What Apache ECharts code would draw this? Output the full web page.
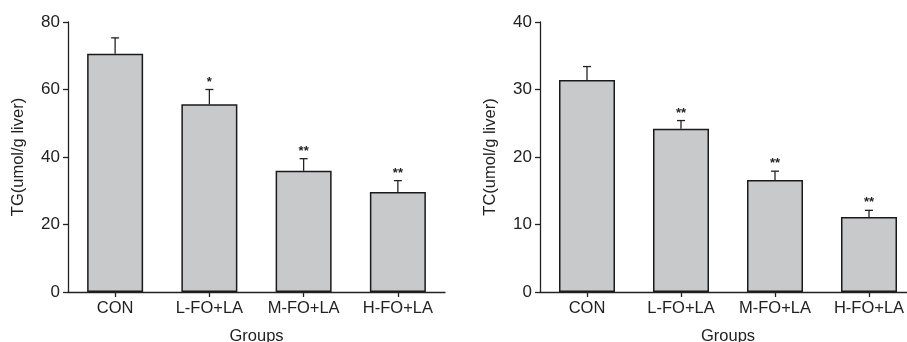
<!DOCTYPE html>
<html><head><meta charset="utf-8">
<script src="https://cdn.jsdelivr.net/npm/echarts@6/dist/echarts.min.js"></script>
<style>html,body{margin:0;padding:0;background:#fff}#c{width:907px;height:342px}</style>
</head><body><div id="c"></div>
<script>
const categories = ['CON', 'L-FO+LA', 'M-FO+LA', 'H-FO+LA'];
const tgMeans = [70.6, 55.6, 35.9, 29.6];
const tgErrTop = [75.3, 60.0, 39.5, 33.0];
const tgSig = ['', '*', '**', '**'];
const tcMeans = [31.4, 24.2, 16.6, 11.1];
const tcErrTop = [33.4, 25.4, 17.9, 12.1];
const tcSig = ['', '**', '**', '**'];
const tgTicks = [0, 20, 40, 60, 80];
const tcTicks = [0, 10, 20, 30, 40];

const FONT = 'Liberation Sans';
const INK = '#222';

function errRender(params, api) {
  const x = api.value(0);
  const p0 = api.coord([x, api.value(1)]);
  const p1 = api.coord([x, api.value(2)]);
  const sig = api.value(3);
  const half = 4;
  const children = [
    {type: 'line', shape: {x1: p0[0], y1: p0[1], x2: p1[0], y2: p1[1]}, style: {stroke: INK, lineWidth: 1.3}},
    {type: 'line', shape: {x1: p1[0] - half, y1: p1[1], x2: p1[0] + half, y2: p1[1]}, style: {stroke: INK, lineWidth: 1.3}}
  ];
  if (sig) {
    children.push({type: 'text', x: p1[0], y: p1[1] - 1, style: {text: sig, fill: INK, font: 'bold 13px ' + FONT, align: 'center', verticalAlign: 'bottom'}});
  }
  return {type: 'group', children};
}

function mkData(means, errs, sig) {
  return means.map((m, i) => [i, m, errs[i], sig[i]]);
}

const axisCommon = {
  axisLine: {show: true, lineStyle: {color: INK, width: 1.3}},
  axisTick: {show: true, length: 5, lineStyle: {color: INK, width: 1.3}},
  axisLabel: {color: INK, fontFamily: FONT, fontSize: 17},
  splitLine: {show: false}
};

function xAxis(gi) {
  return Object.assign({}, axisCommon, {
    type: 'category', gridIndex: gi, data: categories,
    axisTick: {show: true, length: 5, alignWithLabel: true, lineStyle: {color: INK, width: 1.3}},
    axisLabel: {color: INK, fontFamily: FONT, fontSize: 16.5, margin: 8, interval: 0},
    name: 'Groups', nameLocation: 'middle', nameGap: 36,
    nameTextStyle: {color: INK, fontFamily: FONT, fontSize: 16.5}
  });
}
function yAxis(gi, ticks, name) {
  return Object.assign({}, axisCommon, {
    type: 'value', gridIndex: gi, min: ticks[0], max: ticks[ticks.length - 1],
    interval: ticks[1] - ticks[0],
    name: name, nameLocation: 'middle', nameGap: 41, nameRotate: 90,
    nameTextStyle: {color: INK, fontFamily: FONT, fontSize: 16.5}
  });
}

const barStyle = {color: '#c8c9cb', borderColor: '#1a1a1a', borderWidth: 1.5};

const option = {
  backgroundColor: '#fff',
  animation: false,
  grid: [
    {left: 68, top: 22, width: 377, height: 270, outerBoundsMode: 'none', containLabel: false},
    {left: 540, top: 22, width: 376, height: 270, outerBoundsMode: 'none', containLabel: false}
  ],
  xAxis: [xAxis(0), xAxis(1)],
  yAxis: [yAxis(0, tgTicks, 'TG(umol/g liver)'), yAxis(1, tcTicks, 'TC(umol/g liver)')],
  series: [
    {type: 'bar', xAxisIndex: 0, yAxisIndex: 0, data: tgMeans, barWidth: 56, itemStyle: barStyle},
    {type: 'custom', xAxisIndex: 0, yAxisIndex: 0, data: mkData(tgMeans, tgErrTop, tgSig), renderItem: errRender, z: 5},
    {type: 'bar', xAxisIndex: 1, yAxisIndex: 1, data: tcMeans, barWidth: 56, itemStyle: barStyle},
    {type: 'custom', xAxisIndex: 1, yAxisIndex: 1, data: mkData(tcMeans, tcErrTop, tcSig), renderItem: errRender, z: 5}
  ]
};
const chart = echarts.init(document.getElementById('c'), null, {renderer: 'canvas'});
chart.setOption(option);
</script></body></html>
